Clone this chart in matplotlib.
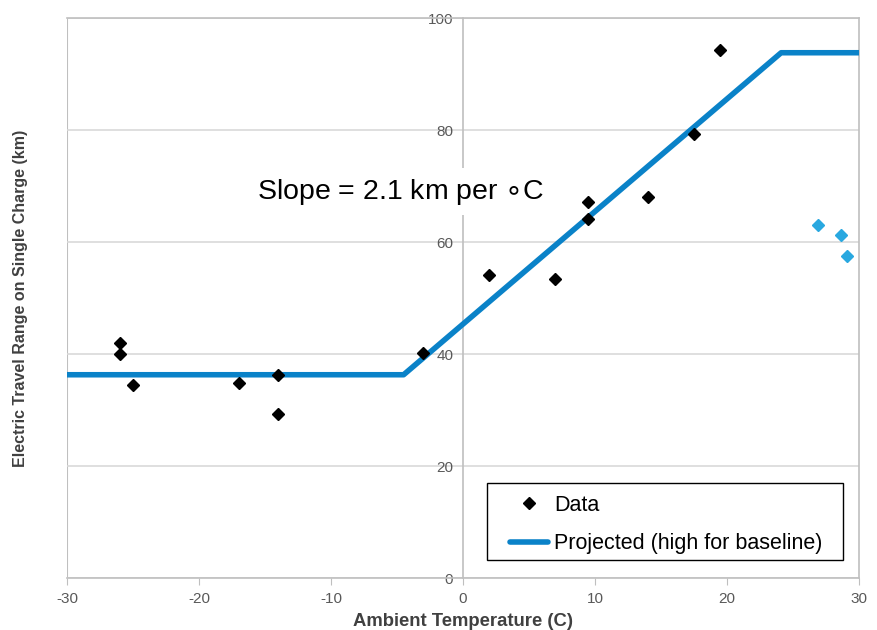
import matplotlib; matplotlib.use('Agg')
import matplotlib.pyplot as plt
from matplotlib.patches import Rectangle

plt.rcParams.update({'font.family': 'Liberation Sans', 'font.size': 10,
                     'axes.unicode_minus': False})

# measured points (black)
temp = [-26, -26, -25, -17, -14, -14, -3, 2, 7, 9.5, 9.5, 14, 17.5, 19.5]
rng = [42, 40, 34.4, 34.8, 36.3, 29.3, 40.2, 54.1, 53.4, 67.2, 64.1, 68, 79.2, 94.2]
# highlighted hot-weather points (light blue)
hot_temp = [26.9, 28.6, 29.1]
hot_rng = [63.0, 61.2, 57.5]
# projected piecewise line
proj_t = [-30, -4.5, 24.1, 30]
proj_r = [36.3, 36.3, 93.8, 93.8]

xticks = [-30, -20, -10, 0, 10, 20, 30]
yticks = [0, 20, 40, 60, 80, 100]

fig = plt.figure(figsize=(8.77, 6.30), dpi=100)
ax = fig.add_axes([0.0764, 0.0825, 0.9031, 0.8889])
ax.set_xlim(-30, 30); ax.set_ylim(0, 100)

grey = '#bfbfbf'
for s in ['top', 'right', 'bottom', 'left']:
    ax.spines[s].set_color(grey)
    ax.spines[s].set_linewidth(1.2)
ax.spines['left'].set_position(('data', 0))
ax.axvline(-30, color=grey, lw=1.5, zorder=0)
ax.yaxis.grid(True, color='#d9d9d9', lw=1.2)
ax.set_axisbelow(True)

ax.set_xticks(xticks); ax.set_yticks(yticks)
ax.tick_params(axis='x', colors=grey, labelcolor='#595959', length=5, pad=5, labelsize=11)
ax.tick_params(axis='y', length=0, pad=7, labelcolor='#595959', labelsize=11)

ax.plot(proj_t, proj_r, color='#0a82c8', lw=4, solid_capstyle='round',
        label='Projected (high for baseline)', zorder=3)
ax.plot(temp, rng, 'D', color='black', ms=6, label='Data', zorder=4)
ax.plot(hot_temp, hot_rng, 'D', color='#29a8e0', ms=6, zorder=4)

ax.text(-4.7, 69.0, 'Slope = 2.1 km per $\\circ$C', fontsize=20.5, ha='center', va='center',
        bbox=dict(facecolor='white', edgecolor='none', pad=6), zorder=5)

# legend frame drawn separately (wider side padding than top/bottom)
ax.add_patch(Rectangle((0.530, 0.032), 0.4495, 0.1375, transform=ax.transAxes,
                       facecolor='white', edgecolor='black', lw=1.0, zorder=6))
h, l = ax.get_legend_handles_labels()
leg = ax.legend(h[::-1], l[::-1], loc='center', bbox_to_anchor=(0.757, 0.0955),
                borderaxespad=0, fontsize=15.5, frameon=False, borderpad=0,
                labelspacing=0.8, handlelength=1.75, handletextpad=0.3)
leg.set_zorder(7)

ax.set_xlabel('Ambient Temperature (C)', fontweight='bold', fontsize=13.3, color='#404040')
ax.xaxis.set_label_coords(0.5, -0.063)
ax.set_ylabel('Electric Travel Range on Single Charge (km)', fontweight='bold',
              fontsize=11.5, color='#404040')
ax.yaxis.set_label_coords(-0.049, 0.5)

fig.savefig('out.png', dpi=100)
